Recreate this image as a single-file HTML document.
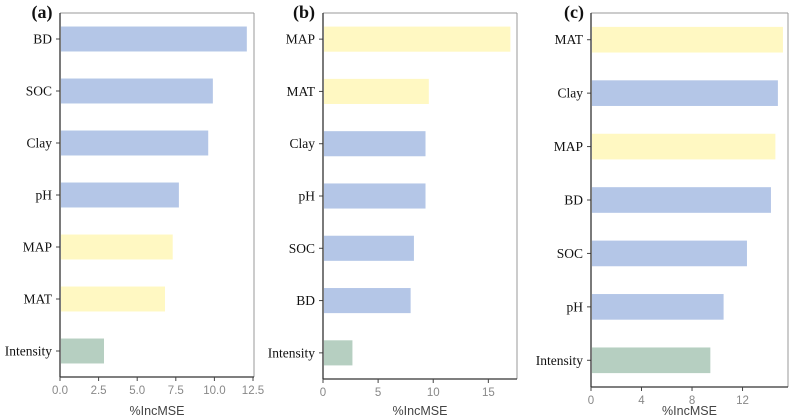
<!DOCTYPE html>
<html><head><meta charset="utf-8"><style>
body{margin:0;background:#fff;}
svg{display:block}
</style></head><body>
<svg id="chart" width="791" height="419" viewBox="0 0 791 419"></svg>
<script>
const catsA=["BD","SOC","Clay","pH","MAP","MAT","Intensity"];
const valsA=[12.1,9.9,9.6,7.7,7.3,6.8,2.85];
const grpA=["s","s","s","s","c","c","h"];
const ticksA=[0,2.5,5,7.5,10,12.5];
const tickLabA=["0.0","2.5","5.0","7.5","10.0","12.5"];
const catsB=["MAP","MAT","Clay","pH","SOC","BD","Intensity"];
const valsB=[17.0,9.6,9.3,9.3,8.25,7.95,2.67];
const grpB=["c","c","s","s","s","s","h"];
const ticksB=[0,5,10,15];
const tickLabB=["0","5","10","15"];
const catsC=["MAT","Clay","MAP","BD","SOC","pH","Intensity"];
const valsC=[15.2,14.8,14.6,14.25,12.35,10.5,9.45];
const grpC=["c","s","c","s","s","s","h"];
const ticksC=[0,4,8,12];
const tickLabC=["0","4","8","12"];
const colors={s:"#b4c6e7",c:"#fff8c2",h:"#b6cfc1"};
const NS="http://www.w3.org/2000/svg";
const svg=document.getElementById('chart');
function mk(t,a,p){const e=document.createElementNS(NS,t);for(const k in a)e.setAttribute(k,a[k]);(p||svg).appendChild(e);return e;}
function panel(id,letter,cats,vals,grp,ticks,labs,L,R,T,B,xmax,letterX){
  const g=mk('g',{});
  
  
  const x=v=>L+(v/xmax)*(R-L);
  const band=(B-T)/cats.length;
  const y=i=>T+band*(i+0.5);
  const bh=band*0.48;
  cats.forEach((c,i)=>{
    const r=mk('rect',{x:L+1,y:y(i)-bh/2,width:x(vals[i])-L-1,height:bh,fill:colors[grp[i]]},g);
    
    
    mk('line',{x1:L-4,x2:L,y1:y(i),y2:y(i),stroke:'#444','stroke-width':1},g);
    const t=mk('text',{x:L-8,y:y(i)+4.5,'text-anchor':'end','font-family':'Liberation Serif, serif','font-size':13.5,fill:'#111'},g);
    t.textContent=c;
    
    
  });
  mk('line',{x1:L,x2:R,y1:T,y2:T,stroke:'#999','stroke-width':1},g);
  mk('line',{x1:R,x2:R,y1:T,y2:B,stroke:'#999','stroke-width':1},g);
  mk('line',{x1:L,x2:L,y1:T,y2:B,stroke:'#333','stroke-width':1.3},g);
  mk('line',{x1:L,x2:R,y1:B,y2:B,stroke:'#333','stroke-width':1.3},g);
  ticks.forEach((v,i)=>{
    mk('line',{x1:x(v),x2:x(v),y1:B,y2:B+4,stroke:'#444','stroke-width':1},g);
    const t=mk('text',{x:x(v),y:B+17,'text-anchor':'middle','font-family':'Liberation Sans, sans-serif','font-size':11.5,fill:'#888'},g);
    t.textContent=labs[i];
    
    
  });
  const xl=mk('text',{x:(L+R)/2,y:415,'text-anchor':'middle','font-family':'Liberation Sans, sans-serif','font-size':12.5,fill:'#444'},g);
  xl.textContent='%IncMSE';
  
  
  const lt=mk('text',{x:letterX,y:18,'text-anchor':'middle','font-family':'Liberation Serif, serif','font-size':18,'font-weight':'bold',fill:'#111'},g);
  lt.textContent=letter;
  
  
}
panel('a','(a)',catsA,valsA,grpA,ticksA,tickLabA,60,254,13,377,12.5*(194/193),42);
panel('b','(b)',catsB,valsB,grpB,ticksB,tickLabB,323,517,13,379,17.6,304);
panel('c','(c)',catsC,valsC,grpC,ticksC,tickLabC,591,788,13,387,15.6,574);
</script>
</body></html>
